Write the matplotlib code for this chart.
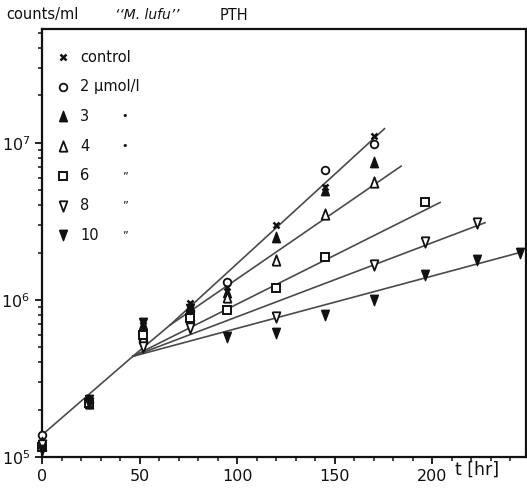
import matplotlib.pyplot as plt
from matplotlib.ticker import MultipleLocator, LogLocator, NullFormatter

# measured points (t in hr, counts/ml)
control_t = [0, 24, 52, 76, 95, 120, 145, 170]
control_y = [1.30e5, 2.3e5, 7.3e5, 9.5e5, 1.2e6, 3.0e6, 5.2e6, 1.1e7]

umol2_t = [0, 24, 52, 76, 95, 145, 170]
umol2_y = [1.38e5, 2.25e5, 5.5e5, 8.5e5, 1.3e6, 6.7e6, 9.8e6]

umol3_t = [0, 24, 52, 76, 95, 120, 145, 170]
umol3_y = [1.25e5, 2.3e5, 7.0e5, 9.0e5, 1.12e6, 2.5e6, 5.0e6, 7.6e6]

umol4_t = [0, 24, 52, 76, 95, 120, 145, 170]
umol4_y = [1.2e5, 2.2e5, 5.8e5, 8.0e5, 1.05e6, 1.8e6, 3.5e6, 5.6e6]

umol6_t = [0, 24, 52, 76, 95, 120, 145, 196]
umol6_y = [1.15e5, 2.2e5, 6.0e5, 7.7e5, 8.6e5, 1.19e6, 1.87e6, 4.2e6]

umol8_t = [0, 24, 52, 76, 120, 170, 196, 223]
umol8_y = [1.2e5, 2.2e5, 5.0e5, 6.6e5, 7.8e5, 1.66e6, 2.35e6, 3.1e6]

umol10_t = [0, 24, 52, 76, 95, 120, 145, 170, 196, 223, 245]
umol10_y = [1.1e5, 2.3e5, 7.1e5, 8.8e5, 5.8e5, 6.2e5, 8.0e5, 1.0e6, 1.45e6, 1.8e6, 2.0e6]

# fitted growth lines (vertices)
fit_control_t = [0, 46.5, 65.5, 175.5]
fit_control_y = [1.38e5, 4.37e5, 6.9e5, 1.23e7]
fit4_t = [65.5, 184]
fit4_y = [6.9e5, 7.1e6]
fit6_t = [46.5, 204]
fit6_y = [4.37e5, 4.17e6]
fit8_t = [46.5, 227]
fit8_y = [4.37e5, 3.1e6]
fit10_t = [46.5, 246]
fit10_y = [4.37e5, 2.02e6]

legend_labels = ["control", "2 \u03bcmol/l", "3", "4", "6", "8", "10"]
ditto = ["", "", "\u2022", "\u2022", "\u201d", "\u201d", "\u201d"]

ink = "#111111"
line_col = "#4a4a4a"

# slightly tall triangles like the hand-drawn symbols
tri_up = [(-0.75, -1), (0.75, -1), (0, 1), (-0.75, -1)]
tri_down = [(-0.75, 1), (0.75, 1), (0, -1), (-0.75, 1)]

fig = plt.figure(figsize=(5.27, 4.91), dpi=100)
ax = fig.add_axes([42 / 527, 34 / 491, 484 / 527, 428 / 491])

for t, y in [(fit_control_t, fit_control_y), (fit4_t, fit4_y), (fit6_t, fit6_y),
             (fit8_t, fit8_y), (fit10_t, fit10_y)]:
    ax.plot(t, y, color=line_col, lw=1.2, zorder=1)

styles = [
    (control_t, control_y, dict(marker="x", ms=4.5, mew=1.8, mec=ink, ls="none")),
    (umol2_t, umol2_y, dict(marker="o", ms=5.5, mew=1.3, mec=ink, mfc="white", ls="none")),
    (umol3_t, umol3_y, dict(marker=tri_up, ms=7.5, mew=1.0, mec=ink, mfc=ink, ls="none")),
    (umol4_t, umol4_y, dict(marker=tri_up, ms=7.5, mew=1.3, mec=ink, mfc="white", ls="none")),
    (umol6_t, umol6_y, dict(marker="s", ms=6, mew=1.4, mec=ink, mfc="white", ls="none")),
    (umol8_t, umol8_y, dict(marker=tri_down, ms=7.5, mew=1.3, mec=ink, mfc="white", ls="none")),
    (umol10_t, umol10_y, dict(marker=tri_down, ms=7.5, mew=1.0, mec=ink, mfc=ink, ls="none")),
]
for t, y, kw in styles:
    ax.plot(t, y, zorder=3, clip_on=False, **kw)

ax.set_yscale("log")
ax.set_xlim(0, 248)
ax.set_ylim(1e5, 5.3e7)

ax.xaxis.set_major_locator(MultipleLocator(50))
ax.xaxis.set_minor_locator(MultipleLocator(10))
ax.yaxis.set_major_locator(LogLocator(base=10, numticks=10))
ax.yaxis.set_minor_locator(LogLocator(base=10, subs=range(2, 10), numticks=20))
ax.yaxis.set_minor_formatter(NullFormatter())
ax.set_xticks([0, 50, 100, 150, 200])
ax.set_xticklabels(["0", "50", "100", "150", "200"])

ax.tick_params(which="major", length=5, width=1.3, colors=ink, labelsize=11.5, direction="out")
ax.tick_params(which="minor", length=3, width=1.1, colors=ink, direction="out")
for s in ax.spines.values():
    s.set_linewidth(1.6)
    s.set_color(ink)

# legend drawn by hand like the original
for i, (st, lab, dit) in enumerate(zip(styles, legend_labels, ditto)):
    yy = 57 + i * 29.7
    kw = dict(st[2])
    kw.pop("ls")
    fig.lines.append(plt.Line2D([63 / 527], [1 - yy / 491], transform=fig.transFigure, **kw))
    fig.text(80 / 527, 1 - yy / 491, lab, fontsize=10.5, va="center", ha="left", color=ink)
    if dit:
        fig.text(125 / 527, 1 - yy / 491, dit, fontsize=8, va="center", ha="center", color=ink)

fig.text(6 / 527, 1 - 15 / 491, "counts/ml", fontsize=10.5, va="center", color=ink)
fig.text(115 / 527, 1 - 15 / 491, "\u2018\u2018M. lufu\u2019\u2019", fontsize=10, style="italic",
         va="center", color=ink)
fig.text(220 / 527, 1 - 15 / 491, "PTH", fontsize=10.5, va="center", color=ink)
fig.text(455 / 527, 1 - 470 / 491, "t [hr]", fontsize=12.5, va="center", color=ink)

fig.savefig("out.png", dpi=100)
